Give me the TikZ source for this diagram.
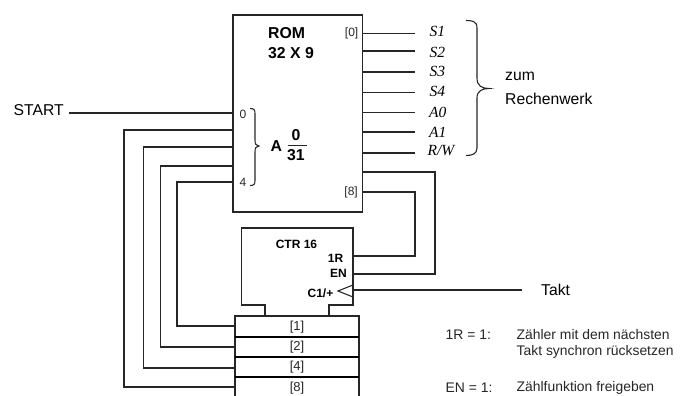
\documentclass[tikz,border=0pt]{standalone}
\usepackage{fontspec}
\setmainfont{Liberation Sans}
\newfontfamily\serifit[ItalicFont={Liberation Serif Italic}]{Liberation Serif}
\usetikzlibrary{calc}
\tikzset{
  x=1pt,y=-1pt,
  wire/.style={draw=black!85,line width=1.1pt},
  blockbox/.style={draw=black!85,line width=1.2pt,inner sep=0pt,outer sep=0pt,anchor=north west},
  regbox/.style={draw=none,inner sep=0pt,outer sep=0pt,anchor=north west,minimum width=124pt,font=\fontsize{13}{15}\selectfont,text=black!85},
  pin/.style={inner sep=0pt,font=\fontsize{12}{14}\selectfont,text=black!85},
  sig/.style={inner sep=0pt,anchor=west,font=\fontsize{15.5}{18}\serifit\itshape},
  txt/.style={inner sep=0pt,anchor=west,font=\fontsize{15.7}{18}\selectfont},
  note/.style={inner sep=0pt,anchor=west,font=\fontsize{13.9}{16}\selectfont,text=black!85},
  bold/.style={inner sep=0pt,font=\fontsize{15.8}{18}\selectfont\bfseries},
  boldsm/.style={inner sep=0pt,font=\fontsize{12}{14}\selectfont\bfseries},
}
\begin{document}
\begin{tikzpicture}
\useasboundingbox (0,0) rectangle (694,396);
\clip (0,0) rectangle (694,396);
% ROM
\node[blockbox,minimum width=129.5pt,minimum height=197pt] (rom) at (233,15) {};
\node[bold,anchor=west] (romt1) at (268,33.5) {ROM};
\node[bold,anchor=west] (romt2) at (268,53.5) {32 X 9};
\node[pin] (p0) at (243,114) {0};
\node[pin] (p4) at (243,182) {4};
\node[pin,anchor=east] (o0) at (358.5,33) {[0]};
\node[pin,anchor=east] (o8) at (358,192) {[8]};
\node[bold,anchor=west] (aa) at (270.5,146) {A};
\node[bold] (a0) at (296,135.5) {0};
\node[bold] (a31) at (296,155) {31};
\draw[wire,line width=.9pt] (287.5,145) coordinate (fl) -- (307,145) coordinate (fr);
\draw[wire] (250,108.5) .. controls (254.5,108.5) and (255,110) .. (255,114) -- (255,140)
  .. controls (255,144) and (256,146) .. (259,146) .. controls (256,146) and (255,148) .. (255,152)
  -- (255,180) .. controls (255,184) and (254.5,185.5) .. (250,185.5);
% inputs
\node[txt] (start) at (13.5,110.5) {START};
\coordinate (r0) at (233,113);
\coordinate (r1) at (233,130);
\coordinate (r2) at (233,147);
\coordinate (r3) at (233,166);
\coordinate (r4) at (233,182);
\draw[wire] (69,113) coordinate (startend) -- (r0);
% outputs
\foreach \n/\y in {1/33.5,2/51,3/72,4/92.5,5/112.5,6/132,7/153}{
  \coordinate (oa\n) at (362.5,\y);
  \coordinate (ob\n) at (415,\y);
  \draw[wire] (oa\n) -- (ob\n);
}
\node[sig] (s1) at (429.5,31) {S1};
\node[sig] (s2) at (429.5,52) {S2};
\node[sig] (s3) at (429.5,71) {S3};
\node[sig] (s4) at (429.5,91) {S4};
\node[sig] (a0s) at (429,112) {A0};
\node[sig] (a1s) at (429,132) {A1};
\node[sig] (rw) at (427.5,151) {R/W};
% big brace
\draw[wire] (466,20.5) .. controls (472,20.5) and (477,21) .. (477,28) -- (477,78)
  .. controls (477,86) and (482,88.5) .. (489,88.5) .. controls (482,88.5) and (477,91) .. (477,98)
  -- (477,148) .. controls (477,154) and (472,155.5) .. (466,155.5);
\node[txt] (zum) at (505,76) {zum};
\node[txt] (rech) at (505,99) {Rechenwerk};
% CTR
\draw[blockbox] (265,316) coordinate (nl) -- (265,305) -- (241.5,305) -- (241.5,228) -- (353,228) -- (353,305) -- (329,305) -- (329,316) coordinate (nr);
\coordinate (c1r) at (353,256);
\coordinate (cen) at (353,274);
\coordinate (cck) at (353,290);
\node[boldsm] (ctrt) at (296.5,244) {CTR 16};
\node[boldsm,anchor=east] (l1r) at (343.5,258) {1R};
\node[boldsm,anchor=east] (len) at (347,273) {EN};
\node[boldsm,anchor=east] (lc1) at (333.5,293) {C1/+};
\draw[wire] (353,285) -- (338,291) -- (353,297);
% register
\node[regbox,minimum height=22pt] (reg1) at (235,316) {[1]};
\node[regbox,minimum height=20pt] (reg2) at (235,337) {[2]};
\node[regbox,minimum height=21pt] (reg3) at (235,357) {[4]};
\node[regbox,minimum height=22pt] (reg4) at (235,377) {[8]};
\draw[wire] (235,400) -- (235,316) -- (359,316) -- (359,400);
\foreach \y in {337,357,377}{\draw[draw=black,line width=1.6pt] (235,\y) -- (359,\y);}
% feedback wires
\draw[wire] (r1) -- (124,130) -- (124,387) -- (236,387);
\draw[wire] (r2) -- (143.5,147) -- (143.5,368) -- (reg3.west|-0,368);
\draw[wire] (r3) -- (160.5,166) -- (160.5,347) -- (reg2.west|-0,347);
\draw[wire] (r4) -- (177,182) -- (177,326) -- (reg1.west|-0,326);
\draw[wire] (362.5,172) -- (435,172) -- (435,274) -- (cen);
\draw[wire] (362.5,192) -- (415,192) -- (415,256) -- (c1r);
% Takt
\node[txt] (takt) at (541,289.5) {Takt};
\draw[wire] (cck) -- (522,290) coordinate (tk);
% notes
\node[note] (n1) at (445.5,335) {1R = 1:};
\node[note] (n2) at (516.5,335) {Zähler mit dem nächsten};
\node[note] (n3) at (516.5,351.5) {Takt synchron rücksetzen};
\node[note] (n4) at (445.5,388) {EN = 1:};
\node[note] (n5) at (516.5,388) {Zählfunktion freigeben};
\end{tikzpicture}
\end{document}
